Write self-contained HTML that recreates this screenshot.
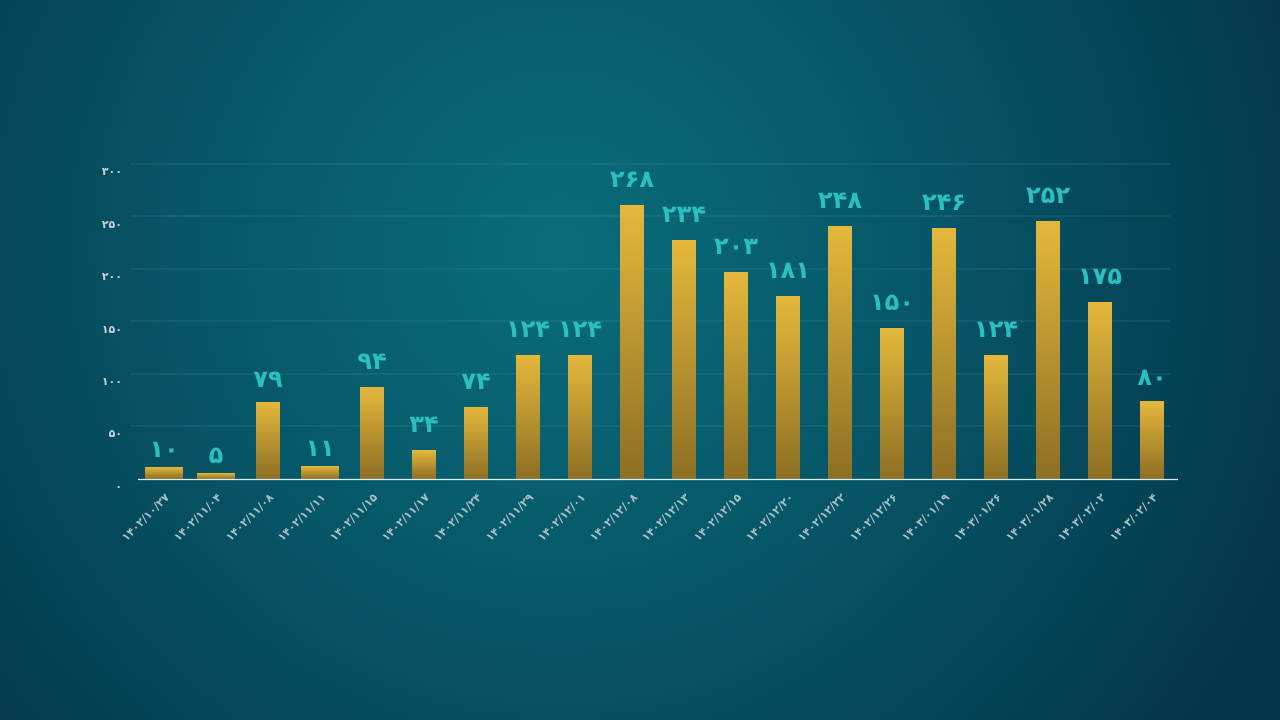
<!DOCTYPE html>
<html><head><meta charset="utf-8"><style>
html,body{margin:0;padding:0;width:1280px;height:720px;overflow:hidden;background:#053f50}
svg{display:block}
.v{font-family:"DejaVu Sans","Liberation Sans","Noto Sans CJK SC",sans-serif;font-weight:bold;font-size:24px;fill:#2bbfc2;text-anchor:middle;letter-spacing:-1px}
.d{font-family:"DejaVu Sans","Liberation Sans",sans-serif;font-weight:bold;font-size:11px;fill:#a9bfc4;text-anchor:end}
.y{font-family:"DejaVu Sans","Liberation Sans",sans-serif;font-weight:bold;font-size:11px;fill:#c9d3d6;text-anchor:end}
</style></head><body>
<svg width="1280" height="720" viewBox="0 0 1280 720">
<defs>
<radialGradient id="bg" cx="560" cy="250" r="820" gradientUnits="userSpaceOnUse">
<stop offset="0" stop-color="#0a6c7a"/><stop offset="0.45" stop-color="#065667"/><stop offset="1" stop-color="#033447"/>
</radialGradient>
<linearGradient id="bar" x1="0" y1="0" x2="0" y2="1">
<stop offset="0" stop-color="#e5b83c"/><stop offset="1" stop-color="#8d6f24"/>
</linearGradient>
</defs>
<rect width="1280" height="720" fill="url(#bg)"/>
<g stroke="#5a9aa5" stroke-width="1" opacity="0.3">
<line x1="130" y1="164" x2="1170" y2="164"/><line x1="130" y1="216" x2="1170" y2="216"/>
<line x1="130" y1="269" x2="1170" y2="269"/><line x1="130" y1="321" x2="1170" y2="321"/>
<line x1="130" y1="374" x2="1170" y2="374"/><line x1="130" y1="426" x2="1170" y2="426"/>
</g>
<g class="y">
<text class="y" x="122" y="175">۳۰۰</text><text class="y" x="122" y="228">۲۵۰</text>
<text class="y" x="122" y="280">۲۰۰</text><text class="y" x="122" y="333">۱۵۰</text>
<text class="y" x="122" y="385">۱۰۰</text><text class="y" x="122" y="437">۵۰</text>
<text class="y" x="122" y="490">۰</text>
</g>
<g fill="url(#bar)">
<rect x="145" y="467" width="38" height="12"/>
<rect x="197" y="473" width="38" height="6"/>
<rect x="256" y="402" width="24" height="77"/>
<rect x="301" y="466" width="38" height="13"/>
<rect x="360" y="387" width="24" height="92"/>
<rect x="412" y="450" width="24" height="29"/>
<rect x="464" y="407" width="24" height="72"/>
<rect x="516" y="355" width="24" height="124"/>
<rect x="568" y="355" width="24" height="124"/>
<rect x="620" y="205" width="24" height="274"/>
<rect x="672" y="240" width="24" height="239"/>
<rect x="724" y="272" width="24" height="207"/>
<rect x="776" y="296" width="24" height="183"/>
<rect x="828" y="226" width="24" height="253"/>
<rect x="880" y="328" width="24" height="151"/>
<rect x="932" y="228" width="24" height="251"/>
<rect x="984" y="355" width="24" height="124"/>
<rect x="1036" y="221" width="24" height="258"/>
<rect x="1088" y="302" width="24" height="177"/>
<rect x="1140" y="401" width="24" height="78"/>
</g>
<line x1="138" y1="479.5" x2="1178" y2="479.5" stroke="#d8eef0" stroke-width="1.2"/>
<text class="v" x="164" y="457">۱۰</text>
<text class="v" x="216" y="463">۵</text>
<text class="v" x="268" y="387">۷۹</text>
<text class="v" x="320" y="456">۱۱</text>
<text class="v" x="372" y="369">۹۴</text>
<text class="v" x="424" y="432">۳۴</text>
<text class="v" x="476" y="389">۷۴</text>
<text class="v" x="528" y="337">۱۲۴</text>
<text class="v" x="580" y="337">۱۲۴</text>
<text class="v" x="632" y="187">۲۶۸</text>
<text class="v" x="684" y="222">۲۳۴</text>
<text class="v" x="736" y="254">۲۰۳</text>
<text class="v" x="788" y="278">۱۸۱</text>
<text class="v" x="840" y="208">۲۴۸</text>
<text class="v" x="892" y="310">۱۵۰</text>
<text class="v" x="944" y="210">۲۴۶</text>
<text class="v" x="996" y="337">۱۲۴</text>
<text class="v" x="1048" y="203">۲۵۲</text>
<text class="v" x="1100" y="284">۱۷۵</text>
<text class="v" x="1152" y="385">۸۰</text>
<g class="d">
<text class="d" transform="translate(170,498) rotate(-45)">۱۴۰۲/۱۰/۲۷</text>
<text class="d" transform="translate(222,498) rotate(-45)">۱۴۰۲/۱۱/۰۴</text>
<text class="d" transform="translate(274,498) rotate(-45)">۱۴۰۲/۱۱/۰۸</text>
<text class="d" transform="translate(326,498) rotate(-45)">۱۴۰۲/۱۱/۱۱</text>
<text class="d" transform="translate(378,498) rotate(-45)">۱۴۰۲/۱۱/۱۵</text>
<text class="d" transform="translate(430,498) rotate(-45)">۱۴۰۲/۱۱/۱۷</text>
<text class="d" transform="translate(482,498) rotate(-45)">۱۴۰۲/۱۱/۲۴</text>
<text class="d" transform="translate(534,498) rotate(-45)">۱۴۰۲/۱۱/۲۹</text>
<text class="d" transform="translate(586,498) rotate(-45)">۱۴۰۲/۱۲/۰۱</text>
<text class="d" transform="translate(638,498) rotate(-45)">۱۴۰۲/۱۲/۰۸</text>
<text class="d" transform="translate(690,498) rotate(-45)">۱۴۰۲/۱۲/۱۳</text>
<text class="d" transform="translate(742,498) rotate(-45)">۱۴۰۲/۱۲/۱۵</text>
<text class="d" transform="translate(794,498) rotate(-45)">۱۴۰۲/۱۲/۲۰</text>
<text class="d" transform="translate(846,498) rotate(-45)">۱۴۰۲/۱۲/۲۲</text>
<text class="d" transform="translate(898,498) rotate(-45)">۱۴۰۲/۱۲/۲۶</text>
<text class="d" transform="translate(950,498) rotate(-45)">۱۴۰۳/۰۱/۱۹</text>
<text class="d" transform="translate(1002,498) rotate(-45)">۱۴۰۳/۰۱/۲۶</text>
<text class="d" transform="translate(1054,498) rotate(-45)">۱۴۰۳/۰۱/۲۸</text>
<text class="d" transform="translate(1106,498) rotate(-45)">۱۴۰۳/۰۲/۰۲</text>
<text class="d" transform="translate(1158,498) rotate(-45)">۱۴۰۳/۰۲/۰۴</text>
</g>
</svg>
</body></html>
